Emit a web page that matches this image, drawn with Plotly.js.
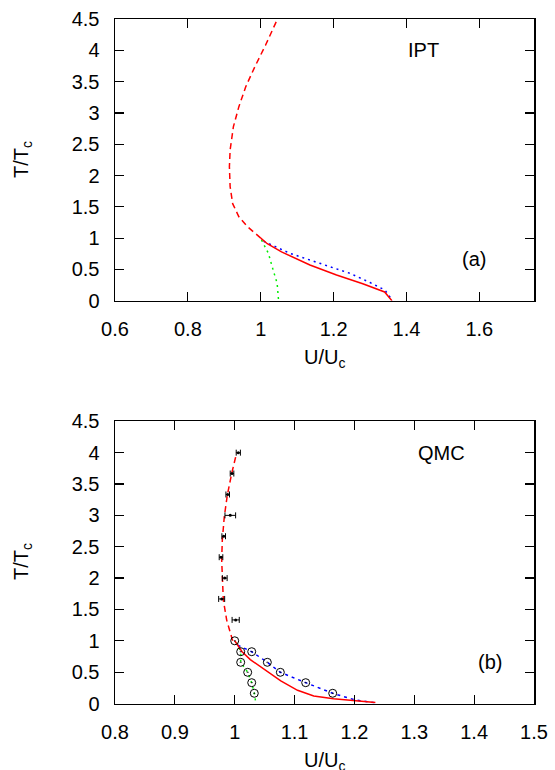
<!DOCTYPE html>
<html>
<head>
<meta charset="utf-8">
<script src="https://cdn.plot.ly/plotly-3.0.1.min.js"></script>
<style>html,body{margin:0;padding:0;background:#fff;}#chart{width:555px;height:770px;}</style>
</head>
<body>
<div id="chart"></div>
<script>
// ---------- Panel (a): IPT ----------
const iptDashedU = [1.0, 0.985, 0.964, 0.940, 0.923, 0.916, 0.914, 0.916, 0.925, 0.940, 0.959, 0.984, 1.013, 1.046];
const iptDashedT = [1.0, 1.07, 1.18, 1.34, 1.55, 1.82, 2.14, 2.41, 2.78, 3.10, 3.42, 3.74, 4.08, 4.5];
const iptSolidU = [1.0, 1.018, 1.057, 1.135, 1.208, 1.280, 1.340, 1.360];
const iptSolidT = [1.0, 0.91, 0.78, 0.57, 0.41, 0.27, 0.14, 0.0];
const iptBlueU = [1.008, 1.040, 1.080, 1.162, 1.245, 1.300, 1.341, 1.362];
const iptBlueT = [0.95, 0.86, 0.757, 0.597, 0.437, 0.29, 0.17, 0.0];
const iptGreenU = [1.002, 1.007, 1.021, 1.034, 1.045, 1.049];
const iptGreenT = [0.97, 0.917, 0.757, 0.49, 0.278, 0.0];

// ---------- Panel (b): QMC ----------
const qmcDashedU = [0.9966, 0.9866, 0.981, 0.9793, 0.9782, 0.9793, 0.9826, 0.9877, 0.995, 1.0033];
const qmcDashedT = [1.0, 1.33, 1.65, 1.97, 2.29, 2.607, 2.98, 3.325, 3.67, 4.0];
const qmcSolidU = [1.0, 1.012, 1.026, 1.053, 1.077, 1.105, 1.132, 1.165, 1.200, 1.235];
const qmcSolidT = [1.0, 0.83, 0.70, 0.52, 0.36, 0.21, 0.12, 0.077, 0.04, 0.015];
const qmcBlueU = [1.005, 1.0284, 1.0545, 1.0762, 1.1186, 1.1637, 1.200, 1.235];
const qmcBlueT = [0.93, 0.826, 0.657, 0.4975, 0.332, 0.163, 0.06, 0.01];
const qmcGreenU = [1.003, 1.010, 1.010, 1.0217, 1.0284, 1.0327, 1.0355];
const qmcGreenT = [0.97, 0.826, 0.657, 0.4975, 0.332, 0.163, 0.0];
const qmcErrU = [1.006, 0.9955, 0.9883, 0.9926, 0.9816, 0.9771, 0.9833, 0.9782, 1.0016];
const qmcErrT = [4.0, 3.667, 3.333, 3.0, 2.667, 2.333, 2.0, 1.667, 1.333];
const qmcErrDU = [0.0035, 0.003, 0.003, 0.0089, 0.003, 0.003, 0.004, 0.005, 0.006];
const qmcCircU = [1.0, 1.010, 1.0284, 1.010, 1.0545, 1.0217, 1.0762, 1.0284, 1.1186, 1.0327, 1.1637];
const qmcCircT = [1.0, 0.826, 0.826, 0.657, 0.657, 0.4975, 0.4975, 0.332, 0.332, 0.163, 0.163];

// ---------- Ticks ----------
const xTicksA = [0.6, 0.8, 1.0, 1.2, 1.4, 1.6];
const xTickTextA = ['0.6', '0.8', '1', '1.2', '1.4', '1.6'];
const xTicksB = [0.8, 0.9, 1.0, 1.1, 1.2, 1.3, 1.4, 1.5];
const xTickTextB = ['0.8', '0.9', '1', '1.1', '1.2', '1.3', '1.4', '1.5'];
const yTicks = [0, 0.5, 1, 1.5, 2, 2.5, 3, 3.5, 4, 4.5];
const yTickText = ['0', '0.5', '1', '1.5', '2', '2.5', '3', '3.5', '4', '4.5'];

const RED = '#ff0000', BLUE = '#0000ff', GREEN = '#00ee00';
const FONT = 'Liberation Sans, Arial, Helvetica, sans-serif';
const FS = 20;

function line(x, y, color, dash, xa, ya, w) {
  return {x: x, y: y, type: 'scatter', mode: 'lines', xaxis: xa, yaxis: ya,
          line: {color: color, width: w || 1.5, dash: dash}, showlegend: false, hoverinfo: 'skip'};
}

const traces = [
  line(iptGreenU, iptGreenT, GREEN, '2px,4px', 'x', 'y', 1.5),
  line(iptBlueU, iptBlueT, BLUE, '2px,4px', 'x', 'y', 1.5),
  line(iptDashedU, iptDashedT, RED, '6px,4px', 'x', 'y', 1.5),
  line(iptSolidU, iptSolidT, RED, 'solid', 'x', 'y', 1.5),

  line(qmcGreenU, qmcGreenT, GREEN, '2px,4px', 'x2', 'y2', 1.5),
  line(qmcBlueU, qmcBlueT, BLUE, '3px,4px', 'x2', 'y2', 1.5),
  line(qmcDashedU, qmcDashedT, RED, '6px,4px', 'x2', 'y2', 1.5),
  line(qmcSolidU, qmcSolidT, RED, 'solid', 'x2', 'y2', 1.5),
  {x: qmcErrU, y: qmcErrT, type: 'scatter', mode: 'markers', xaxis: 'x2', yaxis: 'y2',
   marker: {symbol: 'circle', size: 3, color: 'black'},
   error_x: {type: 'data', array: qmcErrDU, visible: true, color: 'black', thickness: 1, width: 3},
   showlegend: false, hoverinfo: 'skip'},
  {x: qmcCircU, y: qmcCircT, type: 'scatter', mode: 'markers', xaxis: 'x2', yaxis: 'y2',
   marker: {symbol: 'circle-open-dot', size: 8, color: 'black', line: {width: 1, color: 'black'}},
   showlegend: false, hoverinfo: 'skip'}
];

function axis(extra) {
  return Object.assign({
    showline: true, linecolor: 'black', linewidth: 1.5, mirror: 'ticks',
    ticks: 'inside', ticklen: 9, tickwidth: 1.2, tickcolor: 'black',
    showgrid: false, zeroline: false, fixedrange: true,
    tickfont: {family: FONT, size: FS, color: 'black'},
    tickmode: 'array', ticklabelstandoff: 10
  }, extra);
}

const xDom = [115 / 555, 534 / 555];
const yDomA = [1 - 300.7 / 770, 1 - 19 / 770];
const yDomB = [1 - 703.5 / 770, 1 - 421.3 / 770];

const tfont = {family: FONT, size: FS, color: 'black'};

const layout = {
  width: 555, height: 770,
  margin: {l: 0, r: 0, t: 0, b: 0},
  paper_bgcolor: 'white', plot_bgcolor: 'white',
  font: {family: FONT, size: FS, color: 'black'},
  xaxis: axis({domain: xDom, range: [0.6, 1.75], anchor: 'y', tickvals: xTicksA, ticktext: xTickTextA}),
  yaxis: axis({domain: yDomA, range: [0, 4.5], anchor: 'x', tickvals: yTicks, ticktext: yTickText}),
  xaxis2: axis({domain: xDom, range: [0.8, 1.5], anchor: 'y2', tickvals: xTicksB, ticktext: xTickTextB}),
  yaxis2: axis({domain: yDomB, range: [0, 4.5], anchor: 'x2', tickvals: yTicks, ticktext: yTickText}),
  annotations: [
    {text: 'IPT', x: 1.447, y: 4.0, xref: 'x', yref: 'y', showarrow: false, font: tfont},
    {text: '(a)', x: 1.585, y: 0.66, xref: 'x', yref: 'y', showarrow: false, font: tfont},
    {text: 'QMC', x: 1.346, y: 4.0, xref: 'x2', yref: 'y2', showarrow: false, font: tfont},
    {text: '(b)', x: 1.427, y: 0.666, xref: 'x2', yref: 'y2', showarrow: false, font: tfont},
    {text: 'T/T<sub>c</sub>', textangle: -90, x: 22 / 555, y: 1 - 160 / 770, xref: 'paper', yref: 'paper',
     xanchor: 'center', yanchor: 'middle', showarrow: false, font: tfont},
    {text: 'T/T<sub>c</sub>', textangle: -90, x: 22 / 555, y: 1 - 562 / 770, xref: 'paper', yref: 'paper',
     xanchor: 'center', yanchor: 'middle', showarrow: false, font: tfont},
    {text: 'U/U<sub>c</sub>', x: 324 / 555, y: 1 - 358 / 770, xref: 'paper', yref: 'paper',
     xanchor: 'center', yanchor: 'middle', showarrow: false, font: tfont},
    {text: 'U/U<sub>c</sub>', x: 324 / 555, y: 1 - 761 / 770, xref: 'paper', yref: 'paper',
     xanchor: 'center', yanchor: 'middle', showarrow: false, font: tfont}
  ]
};

Plotly.newPlot('chart', traces, layout, {displayModeBar: false, staticPlot: true});
</script>
</body>
</html>
